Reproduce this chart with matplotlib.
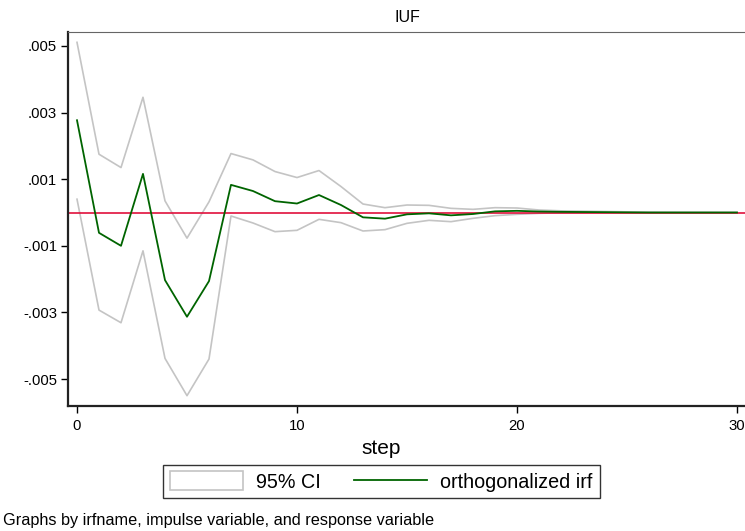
import matplotlib
matplotlib.use("Agg")
import matplotlib.pyplot as plt
from matplotlib.patches import Patch
from matplotlib.lines import Line2D

plt.rcParams['font.family'] = ['Liberation Sans', 'DejaVu Sans']

steps = list(range(31))
irf = [2.77, -0.61, -1.00, 1.16, -2.03, -3.13, -2.06, 0.83, 0.645, 0.34, 0.27,
       0.525, 0.225, -0.145, -0.185, -0.055, -0.025, -0.085, -0.045, 0.035, 0.05,
       0.03, 0.02, 0.015, 0.01, 0.005, 0.0, 0.0, 0.0, 0.0, 0.0]
upper = [5.11, 1.75, 1.35, 3.46, 0.35, -0.77, 0.32, 1.77, 1.58, 1.23, 1.05,
         1.26, 0.78, 0.255, 0.145, 0.225, 0.215, 0.125, 0.095, 0.145, 0.135,
         0.075, 0.05, 0.04, 0.03, 0.02, 0.012, 0.008, 0.005, 0.003, 0.002]
lower = [0.40, -2.93, -3.31, -1.15, -4.38, -5.50, -4.40, -0.105, -0.315, -0.575, -0.535,
         -0.205, -0.305, -0.555, -0.515, -0.325, -0.235, -0.275, -0.175, -0.095, -0.055,
         -0.025, -0.01, -0.008, -0.006, -0.004, -0.003, -0.002, -0.002, -0.001, -0.001]
scale = 1e-3
irf = [v * scale for v in irf]
upper = [v * scale for v in upper]
lower = [v * scale for v in lower]

yticks = [0.005, 0.003, 0.001, -0.001, -0.003, -0.005]
ytick_labels = ['.005', '.003', '.001', '-.001', '-.003', '-.005']
xticks = [0, 10, 20, 30]

fig = plt.figure(figsize=(7.45, 5.31), dpi=100)
fig.patch.set_facecolor('white')
ax = fig.add_axes([68/745, (531-406)/531, (746-68)/745, (406-32)/531])

ci_color = '#c4c4c4'
ax.plot(steps, upper, color=ci_color, lw=1.2)
ax.plot(steps, lower, color=ci_color, lw=1.2)
ax.axhline(0, color='#e0103c', lw=1.2)
ax.plot(steps, irf, color='#006400', lw=1.3)

ax.set_xlim(-0.409, 30.41)
ax.set_ylim(-0.00581, 0.00542)
ax.set_yticks(yticks)
ax.set_yticklabels(ytick_labels)
ax.set_xticks(xticks)
ax.tick_params(axis='both', direction='out', length=5, width=1, labelsize=10.7, colors='black')
ax.tick_params(axis='y', pad=3)
ax.tick_params(axis='x', pad=4)

for s in ['left', 'bottom']:
    ax.spines[s].set_color('#222222')
    ax.spines[s].set_linewidth(1.6)
for s in ['top', 'right']:
    ax.spines[s].set_color('#666666')
    ax.spines[s].set_linewidth(0.8)

fig.text(407/745, 1 - 18/531, 'IUF', ha='center', va='center', fontsize=11.5)
fig.text(381/745, 1 - 449/531, 'step', ha='center', va='center', fontsize=15)
fig.text(3/745, 1 - 520/531, 'Graphs by irfname, impulse variable, and response variable',
         ha='left', va='center', fontsize=11.7)

handles = [Patch(facecolor='white', edgecolor=ci_color, lw=1.2, label='95% CI'),
           Line2D([0], [0], color='#006400', lw=1.3, label='orthogonalized irf')]
leg = fig.legend(handles=handles, loc='center', bbox_to_anchor=(381.5/745, 1 - 481.5/531),
                 ncol=2, fontsize=14.2, frameon=True, fancybox=False, edgecolor='black',
                 handlelength=3.7, handleheight=1.1, handletextpad=0.65,
                 columnspacing=1.7, borderpad=0.35, borderaxespad=0)
leg.get_frame().set_linewidth(1.0)

fig.savefig('out.png', dpi=100, facecolor='white')
